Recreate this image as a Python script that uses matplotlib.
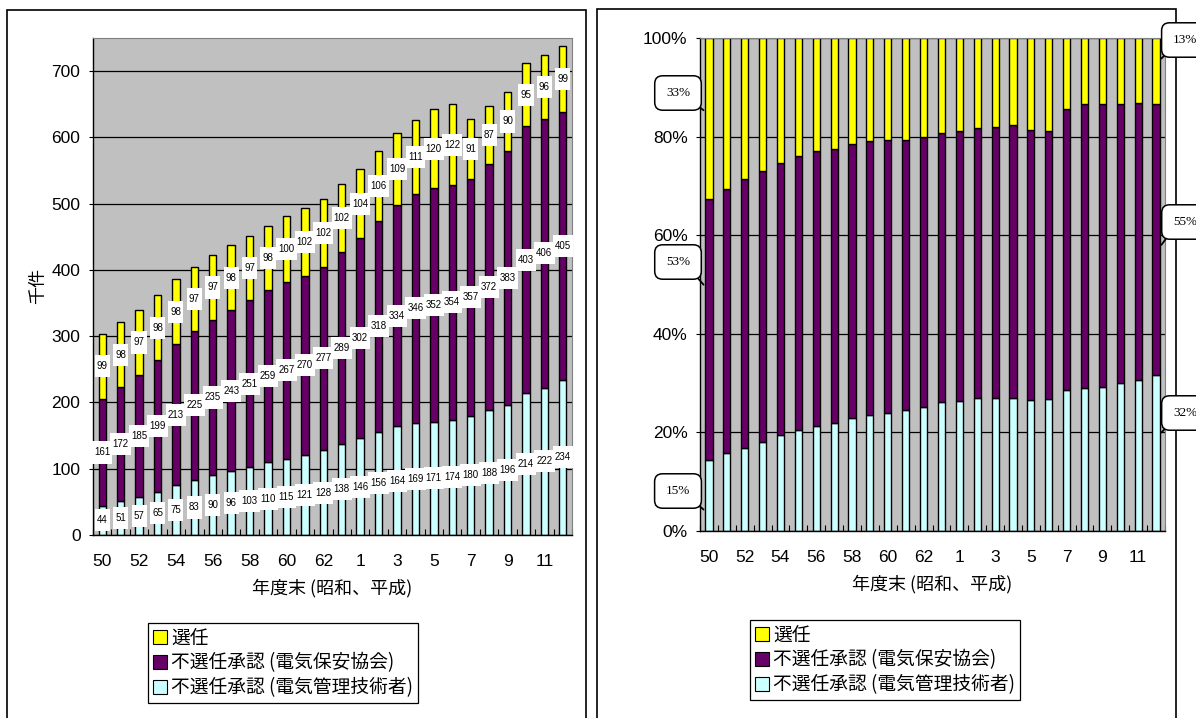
import matplotlib
matplotlib.use('Agg')
import matplotlib.pyplot as plt
import numpy as np
from matplotlib.patches import Patch, Rectangle
from matplotlib.path import Path
from matplotlib.font_manager import FontProperties

# ---------------- data ----------------
years = ['50', '51', '52', '53', '54', '55', '56', '57', '58', '59', '60', '61', '62', '63',
         '1', '2', '3', '4', '5', '6', '7', '8', '9', '10', '11', '12']
senin = [99, 98, 97, 98, 98, 97, 97, 98, 97, 98, 100, 102, 102, 102, 104, 106, 109, 111,
         120, 122, 91, 87, 90, 95, 96, 99]
kyokai = [161, 172, 185, 199, 213, 225, 235, 243, 251, 259, 267, 270, 277, 289, 302, 318,
          334, 346, 352, 354, 357, 372, 383, 403, 406, 405]
gijutsu = [44, 51, 57, 65, 75, 83, 90, 96, 103, 110, 115, 121, 128, 138, 146, 156, 164,
           169, 171, 174, 180, 188, 196, 214, 222, 234]
series_names = ['選任', '不選任承認 (電気保安協会)', '不選任承認 (電気管理技術者)']
left_callouts = ['33%', '53%', '15%']
right_callouts = ['13%', '55%', '32%']
yticks_left = [0, 100, 200, 300, 400, 500, 600, 700]
yticks_right = [0, 20, 40, 60, 80, 100]

# ---------------- style ----------------
C_YEL = '#FFFF00'
C_PUR = '#660066'
C_CYA = '#CCFFFF'
C_BG = '#C0C0C0'
NUMFONT = ['Liberation Sans Narrow', 'Liberation Sans', 'DejaVu Sans']
JPFONT = ['Noto Sans CJK JP', 'DejaVu Sans']

W, H = 1196, 718
fig = plt.figure(figsize=(W / 100, H / 100), dpi=100)


def fx(x):
    return x / W


def fy(y):
    return 1 - y / H


def tallbox(x0, y0, width, height, mutation_size):
    padx = 0.22 * mutation_size
    pady = 0.62 * mutation_size
    x0 -= padx
    y0 -= pady
    w = width + 2 * padx
    h = height + 2 * pady
    return Path([(x0, y0), (x0 + w, y0), (x0 + w, y0 + h), (x0, y0 + h), (x0, y0)], closed=True)


# panel borders
fig.add_artist(Rectangle((fx(7), fy(H + 5)), fx(586) - fx(7), fy(10) - fy(H + 5),
                         transform=fig.transFigure, fill=False, ec='black', lw=1.2, zorder=0))
fig.add_artist(Rectangle((fx(597), fy(H + 5)), fx(1176) - fx(597), fy(9) - fy(H + 5),
                         transform=fig.transFigure, fill=False, ec='black', lw=1.2, zorder=0))

x = np.arange(len(years))
g = np.array(gijutsu, float)
k = np.array(kyokai, float)
s = np.array(senin, float)
tot = g + k + s

BW = 0.4


def style_axes(ax, yticks, ylabels):
    ax.set_facecolor(C_BG)
    ax.set_xlim(-0.5, len(years) - 0.5)
    ax.set_yticks(yticks)
    ax.set_yticklabels(ylabels)
    ax.yaxis.grid(True, color='black', lw=0.9)
    ax.set_axisbelow(True)
    ax.set_xticks(x[::2])
    ax.set_xticklabels(years[::2])
    ax.set_xticks(np.arange(len(years) + 1) - 0.5, minor=True)
    ax.tick_params(axis='x', which='major', length=0, pad=14, labelsize=12.5)
    ax.tick_params(axis='x', which='minor', direction='in', length=4, width=0.8)
    ax.tick_params(axis='y', which='major', length=3, direction='out', pad=6, labelsize=12.5)
    for lab in ax.get_xticklabels() + ax.get_yticklabels():
        lab.set_fontfamily(NUMFONT)
    for sp in ['top', 'right']:
        ax.spines[sp].set_color('#808080')
    for sp in ['left', 'bottom']:
        ax.spines[sp].set_color('black')
        ax.spines[sp].set_linewidth(1.0)


# ---------------- left: absolute values ----------------
axL = fig.add_axes([fx(93), fy(535), fx(572) - fx(93), fy(38) - fy(535)])
axL.bar(x, g, BW, color=C_CYA, edgecolor='black', lw=1.0, zorder=2)
axL.bar(x, k, BW, bottom=g, color=C_PUR, edgecolor='black', lw=1.0, zorder=2)
axL.bar(x, s, BW, bottom=g + k, color=C_YEL, edgecolor='black', lw=1.0, zorder=2)
axL.set_ylim(0, 750)
style_axes(axL, yticks_left, [str(v) for v in yticks_left])
axL.set_ylabel('千件', fontfamily=JPFONT, fontsize=13, labelpad=3)
axL.set_xlabel('年度末 (昭和、平成)', fontfamily=JPFONT, fontsize=13, labelpad=7)

for i in range(len(years)):
    for bottom, val in ((0, g[i]), (g[i], k[i]), (g[i] + k[i], s[i])):
        axL.text(x[i], bottom + val / 2, f'{int(val)}', ha='center', va='center',
                 fontsize=7, fontfamily=NUMFONT, zorder=5,
                 bbox=dict(boxstyle=tallbox, fc='white', ec='none'))

# ---------------- right: percentages ----------------
pg = g / tot * 100
pk = k / tot * 100
ps = s / tot * 100
axR = fig.add_axes([fx(700), fy(531), fx(1165) - fx(700), fy(38) - fy(531)])
axR.bar(x, pg, BW, color=C_CYA, edgecolor='black', lw=1.0, zorder=2)
axR.bar(x, pk, BW, bottom=pg, color=C_PUR, edgecolor='black', lw=1.0, zorder=2)
axR.bar(x, ps, BW, bottom=pg + pk, color=C_YEL, edgecolor='black', lw=1.0, zorder=2)
axR.set_ylim(0, 100)
style_axes(axR, yticks_right, [f'{v}%' for v in yticks_right])
axR.set_xlabel('年度末 (昭和、平成)', fontfamily=JPFONT, fontsize=13, labelpad=7)

# callouts (pointing into the first / last bar segments)
first_pts = [pg[0] + pk[0] + ps[0] * 0.55, pg[0] + pk[0] * 0.67, pg[0] * 0.3]
last_pts = [pg[-1] + pk[-1] + ps[-1] * 0.69, pg[-1] + pk[-1] * 0.48, pg[-1] * 0.63]
left_txt_y = [93, 262, 491]
right_txt_y = [40, 222, 413]
for lab, yv, ty in zip(left_callouts, first_pts, left_txt_y):
    axR.annotate(lab, xy=(-0.3, yv), xycoords='data',
                 xytext=(fx(678), fy(ty)), textcoords='figure fraction',
                 ha='center', va='center', fontsize=9.5, fontfamily='Liberation Serif',
                 annotation_clip=False, zorder=10,
                 bbox=dict(boxstyle='round,pad=0.85,rounding_size=0.6', fc='white', ec='black', lw=1.1),
                 arrowprops=dict(arrowstyle='-', color='black', lw=1.3, relpos=(0.95, 0.0),
                                 shrinkA=0, shrinkB=0))
for lab, yv, ty in zip(right_callouts, last_pts, right_txt_y):
    axR.annotate(lab, xy=(25.3, yv), xycoords='data',
                 xytext=(fx(1185), fy(ty)), textcoords='figure fraction',
                 ha='center', va='center', fontsize=9.5, fontfamily='Liberation Serif',
                 annotation_clip=False, zorder=10,
                 bbox=dict(boxstyle='round,pad=0.85,rounding_size=0.6', fc='white', ec='black', lw=1.1),
                 arrowprops=dict(arrowstyle='-', color='black', lw=1.3, relpos=(0.05, 0.0),
                                 shrinkA=0, shrinkB=0))

# legends
handles = [Patch(facecolor=c, edgecolor='black', lw=0.8) for c in (C_YEL, C_PUR, C_CYA)]
for xl, yl in ((148, 623), (750, 620)):
    leg = fig.legend(handles, series_names, loc='upper left',
                     bbox_to_anchor=(fx(xl), fy(yl)), borderaxespad=0,
                     frameon=True, fancybox=False,
                     edgecolor='black', framealpha=1, borderpad=0.25, labelspacing=0.2,
                     handlelength=0.75, handleheight=0.75, handletextpad=0.25,
                     prop=FontProperties(family=JPFONT, size=13.5))
    leg.get_frame().set_linewidth(0.9)

fig.savefig('out.png', dpi=100)
